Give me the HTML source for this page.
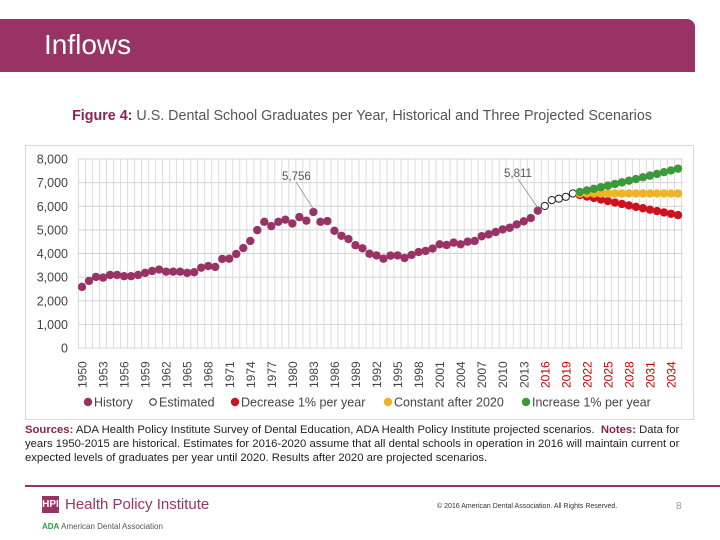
<!DOCTYPE html>
<html><head><meta charset="utf-8"><style>
body{margin:0;width:720px;height:540px;background:#fff;font-family:"Liberation Sans",sans-serif;position:relative;overflow:hidden}
.abs{position:absolute}
</style></head><body>
<div class="abs" style="left:0;top:19px;width:695px;height:53px;background:#993366;border-top-right-radius:8px"></div>
<div class="abs" style="left:44px;top:29px;color:#fff;font-size:28px">Inflows</div>
<div class="abs" style="left:0;width:724px;text-align:center;top:108px;font-size:14.3px;color:#555"><b style="color:#8b2252">Figure 4:</b> U.S. Dental School Graduates per Year, Historical and Three Projected Scenarios</div>
<svg class="abs" style="left:0;top:0" width="720" height="540" id="chart">
<rect x="25.5" y="145.5" width="668" height="274" fill="#fff" stroke="#d9d9d9"/>
</svg>
<div class="abs" style="left:25px;top:423px;width:672px;font-size:11.3px;line-height:14px;color:#222"><b style="color:#8b2252">Sources:</b> ADA Health Policy Institute Survey of Dental Education, ADA Health Policy Institute projected scenarios. &nbsp;<b style="color:#8b2252">Notes:</b> Data for years 1950-2015 are historical. Estimates for 2016-2020 assume that all dental schools in operation in 2016 will maintain current or expected levels of graduates per year until 2020. Results after 2020 are projected scenarios.</div>
<div class="abs" style="left:25px;top:485px;width:695px;height:2px;background:#993366"></div>
<div class="abs" style="left:42px;top:496px;width:17px;height:17px;background:#993366;color:#fff;font-size:10px;line-height:17px;text-align:center;font-weight:bold">HPI</div>
<div class="abs" style="left:65px;top:496px;font-size:15px;color:#993366">Health Policy Institute</div>
<div class="abs" style="left:42px;top:522px;font-size:8px;color:#555"><b style="color:#2a9d4a">ADA</b> American Dental Association</div>
<div class="abs" style="left:437px;top:503px;font-size:7px;color:#333">© 2016 American Dental Association. All Rights Reserved.</div>
<div class="abs" style="left:676px;top:501px;font-size:10px;color:#999">8</div>
<script>
const histYears0=1950;
const history=[2588,2840,3010,2980,3090,3090,3040,3040,3090,3180,3260,3320,3230,3230,3230,3180,3210,3400,3470,3430,3770,3780,3980,4230,4530,4990,5340,5160,5340,5430,5270,5540,5390,5756,5340,5370,4960,4750,4610,4350,4220,3990,3920,3780,3910,3920,3810,3940,4060,4110,4210,4390,4360,4460,4390,4500,4530,4730,4810,4910,5020,5090,5230,5360,5500,5811];
const estYears0=2016;
const estimated=[6010,6260,6320,6400,6540];
const projYears0=2021;
const decrease=[6475,6410,6346,6282,6219,6157,6096,6035,5974,5915,5855,5797,5739,5682,5625];
const constant=[6540,6540,6540,6540,6540,6540,6540,6540,6540,6540,6540,6540,6540,6540,6540];
const increase=[6605,6671,6738,6805,6873,6942,7011,7081,7152,7224,7296,7369,7443,7517,7592];
const yTicks=[0,1000,2000,3000,4000,5000,6000,7000,8000];
const xTickYears=[1950,1953,1956,1959,1962,1965,1968,1971,1974,1977,1980,1983,1986,1989,1992,1995,1998,2001,2004,2007,2010,2013,2016,2019,2022,2025,2028,2031,2034];
const annotations=[[1983,5756,"5,756",282,176],[2015,5811,"5,811",504,173]];
const legendLabels=["History","Estimated","Decrease 1% per year","Constant after 2020","Increase 1% per year"];
const legendColors=["#993366","#fff","#d0121f","#f0b323","#3a9a3a"];
const NS="http://www.w3.org/2000/svg";
const svg=document.getElementById('chart');
const X=y=>82+(y-1950)*7.012;
const Y=v=>348-v*189/8000;
function mk(t,a,p){const e=document.createElementNS(NS,t);for(const k in a)e.setAttribute(k,a[k]);(p||svg).appendChild(e);return e;}
for(let yr=1949;yr<=2036;yr++){const x=X(yr)+3.5;if(x<78||x>683)continue;const l=mk('line',{x1:x,x2:x,y1:159,y2:348,stroke:'#dcdcdc'});

}
yTicks.forEach(v=>{const l=mk('line',{x1:78,x2:683,y1:Y(v),y2:Y(v),stroke:'#d4d4d4'});


const t=mk('text',{x:68,y:Y(v)+4.5,'text-anchor':'end','font-size':'12.5',fill:'#444'});t.textContent=v.toLocaleString('en-US');

});
xTickYears.forEach(yr=>{const t=mk('text',{transform:`translate(${X(yr)+4.5},388) rotate(-90)`,'font-size':'12',fill:yr>=2016?'#c00000':'#444'});t.textContent=yr;

});
function series(arr,y0,fill,stroke,name){arr.forEach((v,i)=>{const c=mk('circle',{cx:X(y0+i),cy:Y(v),r:name==='estimated'?3.6:4.2,fill:fill,stroke:stroke,'stroke-width':1});

});}
series(history,histYears0,'#993366','none','history');
series(estimated,estYears0,'#fff','#222','estimated');
series(decrease,projYears0,'#d0121f','none','decrease');
series(constant,projYears0,'#f0b323','none','constant');
series(increase,projYears0,'#3a9a3a','none','increase');
annotations.forEach(a=>{const l=mk('line',{x1:a[3]+14,y1:a[4]+6,x2:X(a[0]),y2:Y(a[1])-3,stroke:'#888','stroke-width':0.7});


const t=mk('text',{x:a[3],y:a[4]+4,'font-size':'11.5',fill:'#555'});t.textContent=a[2];

});
const lx=[88,153,235,388,526];
legendLabels.forEach((s,i)=>{const c=mk('circle',{cx:lx[i],cy:402,r:i===1?3.3:4.2,fill:legendColors[i],stroke:i===1?'#222':'none'});


const t=mk('text',{x:lx[i]+6,y:406.5,'font-size':'12.5',fill:'#444'});t.textContent=s;

});
</script>
</body></html>
